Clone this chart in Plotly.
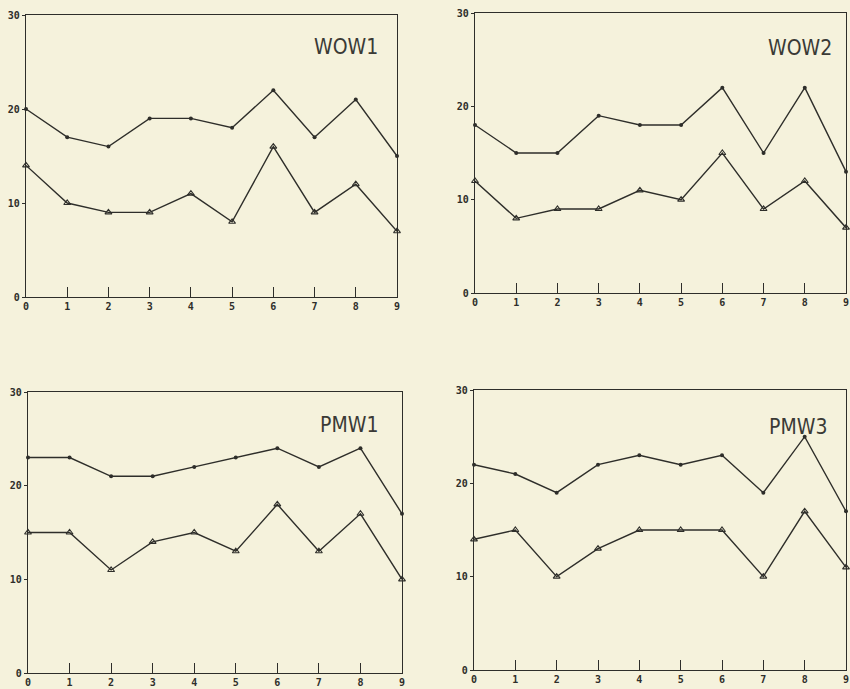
import plotly.graph_objects as go

# ---- data ----
x_vals = list(range(10))
x_labels = [str(i) for i in range(10)]
y_tick_vals = [0, 10, 20, 30]
panel_names = ["WOW1", "WOW2", "PMW1", "PMW3"]

wow1_upper = [20, 17, 16, 19, 19, 18, 22, 17, 21, 15]
wow1_lower = [14, 10, 9, 9, 11, 8, 16, 9, 12, 7]
wow2_upper = [18, 15, 15, 19, 18, 18, 22, 15, 22, 13]
wow2_lower = [12, 8, 9, 9, 11, 10, 15, 9, 12, 7]
pmw1_upper = [23, 23, 21, 21, 22, 23, 24, 22, 24, 17]
pmw1_lower = [15, 15, 11, 14, 15, 13, 18, 13, 17, 10]
pmw3_upper = [22, 21, 19, 22, 23, 22, 23, 19, 25, 17]
pmw3_lower = [14, 15, 10, 13, 15, 15, 15, 10, 17, 11]

uppers = [wow1_upper, wow2_upper, pmw1_upper, pmw3_upper]
lowers = [wow1_lower, wow2_lower, pmw1_lower, pmw3_lower]

# ---- layout geometry (pixels in an 850x689 page) ----
W, H = 850, 689
boxes = [  # left, right, top, bottom
    (26, 397, 15, 297),
    (475, 846, 13, 293),
    (28, 402, 392, 673),
    (474, 846, 390, 670),
]
title_pos = [(346, 47), (800, 48), (349, 425), (798, 427)]

bg = "#f5f2dc"
ink = "#2e2e2a"

fig = go.Figure()
layout = dict(
    width=W, height=H,
    margin=dict(l=0, r=0, t=0, b=0),
    paper_bgcolor=bg, plot_bgcolor=bg,
    showlegend=False,
    template="none",
    annotations=[],
)

for i in range(4):
    l, r, t, b = boxes[i]
    sx = "" if i == 0 else str(i + 1)
    xa, ya = "x" + sx, "y" + sx
    fig.add_trace(go.Scatter(
        x=x_vals, y=uppers[i], xaxis=xa, yaxis=ya, mode="lines+markers",
        line=dict(color=ink, width=1.4),
        marker=dict(symbol="circle", size=4, color=ink),
        cliponaxis=False,
    ))
    fig.add_trace(go.Scatter(
        x=x_vals, y=lowers[i], xaxis=xa, yaxis=ya, mode="lines+markers",
        line=dict(color=ink, width=1.4),
        marker=dict(symbol="triangle-up-open", size=6, color=ink,
                    line=dict(width=1.1, color=ink)),
        cliponaxis=False,
    ))
    common = dict(
        showgrid=False, zeroline=False, showline=True, mirror=True,
        linecolor=ink, linewidth=1.3, automargin=False,
        tickfont=dict(family="DejaVu Sans Mono", size=10, color=ink, weight="bold"),
        tickcolor=ink,
    )
    layout["xaxis" + sx] = dict(
        common, domain=[l / W, r / W], range=[0, 9], anchor=ya,
        tickvals=x_vals, ticktext=x_labels, ticks="inside", ticklen=10,
        tickwidth=1.2,
    )
    layout["yaxis" + sx] = dict(
        common, domain=[1 - b / H, 1 - t / H], range=[0, 30], anchor=xa,
        tickvals=y_tick_vals, ticktext=[str(v) for v in y_tick_vals],
        ticks="outside", ticklen=3, tickwidth=1.2,
    )
    cx, cy = title_pos[i]
    layout["annotations"].append(dict(
        text=panel_names[i], x=cx / W, y=1 - cy / H, xref="paper", yref="paper",
        showarrow=False, xanchor="center", yanchor="middle",
        font=dict(family="Liberation Sans Narrow, DejaVu Sans Condensed, Arial", size=21, color="#3a3a36"),
    ))

fig.update_layout(**layout)
fig.write_html(
    "out.html",
    config={"displayModeBar": False},
    post_script="document.body.style.margin='0';document.body.style.overflow='hidden';document.body.style.background='%s';" % bg,
)
